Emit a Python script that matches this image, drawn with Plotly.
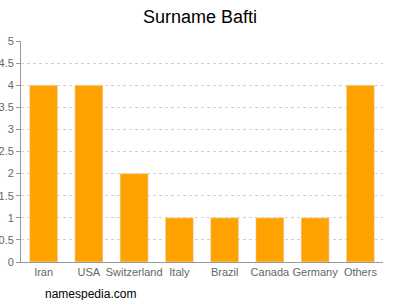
import plotly.graph_objects as go

categories = ["Iran", "USA", "Switzerland", "Italy", "Brazil", "Canada", "Germany", "Others"]
values = [4, 4, 2, 1, 1, 1, 1, 4]
y_ticks = [0, 0.5, 1, 1.5, 2, 2.5, 3, 3.5, 4, 4.5, 5]
y_tick_labels = ["0", "0.5", "1", "1.5", "2", "2.5", "3", "3.5", "4", "4.5", "5"]

fig = go.Figure(go.Bar(x=categories, y=values, marker_color="#FFA200", width=0.62))

fig.update_layout(
    width=400, height=300,
    margin=dict(l=21, r=17, t=41, b=38),
    paper_bgcolor="white", plot_bgcolor="white",
    font=dict(family="Liberation Sans, Arial, sans-serif", color="#666666", size=11),
    title=dict(text="Surname Bafti", x=0.5, xanchor="center", y=0.945, yanchor="middle",
               font=dict(size=18, color="#000000")),
    showlegend=False,
)
fig.update_xaxes(showline=True, linecolor="#999999", linewidth=1, ticks="", tickangle=0, automargin=False,
                 tickfont=dict(size=11, color="#666666"))
fig.update_yaxes(range=[0, 5], tickvals=y_ticks, ticktext=y_tick_labels, showline=True, linecolor="#999999",
                 ticks="outside", ticklen=4, tickcolor="#999999", automargin=False,
                 showgrid=True, gridcolor="#d0d0d0", griddash="3px,3px", gridwidth=1,
                 zeroline=False, tickfont=dict(size=11, color="#666666"))
fig.add_annotation(text="namespedia.com", xref="paper", yref="paper", x=0.06, y=-0.105,
                   xanchor="left", yanchor="top", showarrow=False,
                   font=dict(size=12, color="#000000"))
fig.write_html("out.html")
